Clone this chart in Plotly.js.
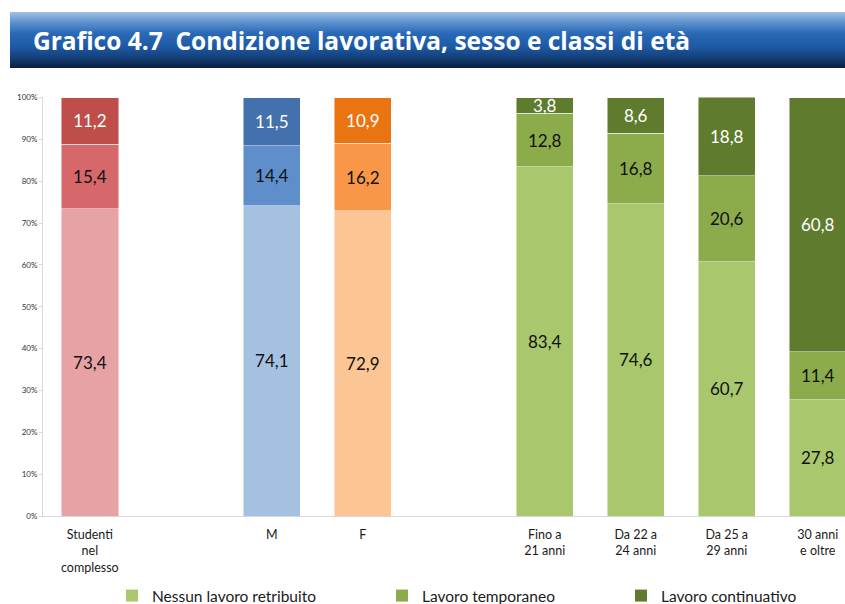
<!DOCTYPE html>
<html>
<head>
<meta charset="utf-8">
<script src="https://cdn.plot.ly/plotly-3.0.1.min.js"></script>
<style>
html,body{margin:0;padding:0;background:#fff;overflow:hidden;}
#wrap{position:relative;width:845px;height:604px;}
#banner{position:absolute;left:10px;top:12px;width:835px;height:56px;
 background:linear-gradient(to bottom,#a3c1e2 0%,#5d93cf 18%,#2a69b6 38%,#1d5aa6 62%,#143f78 82%,#0b1f3c 100%);}
#chart{position:absolute;left:0;top:0;width:845px;height:604px;}
</style>
</head>
<body>
<div id="wrap"><div id="banner"></div><div id="chart"></div></div>
<script>
// Categories (slot positions leave gaps between groups)
const categories = ["Studenti<br>nel<br>complesso", "M", "F", "Fino a<br>21 anni", "Da 22 a<br>24 anni", "Da 25 a<br>29 anni", "30 anni<br>e oltre"];
const slots = [0, 2, 3, 5, 6, 7, 8];

// Series values (%)
const nessunLavoro   = [73.4, 74.1, 72.9, 83.4, 74.6, 60.7, 27.8];
const lavoroTemp     = [15.4, 14.4, 16.2, 12.8, 16.8, 20.6, 11.4];
const lavoroContin   = [11.2, 11.5, 10.9, 3.8, 8.6, 18.8, 60.8];

const seriesNames = ["Nessun lavoro retribuito", "Lavoro temporaneo", "Lavoro continuativo"];
const yTicks = [0,10,20,30,40,50,60,70,80,90,100];
const yTickText = ["0%","10%","20%","30%","40%","50%","60%","70%","80%","90%","100%"];

// Colours per bar (light / medium / dark)
const colLight = ["#e6a2a4", "#a4c1e2", "#fbc594", "#a9c76c", "#a9c76c", "#a9c76c", "#a9c76c"];
const colMid   = ["#d6676a", "#5f8fcb", "#f79747", "#8cab4b", "#8cab4b", "#8cab4b", "#8cab4b"];
const colDark  = ["#bf4e4b", "#4371ae", "#e97411", "#5f7b2d", "#5f7b2d", "#5f7b2d", "#5f7b2d"];
const legendColors = ["#a9c76c", "#8cab4b", "#5f7b2d"];

const labelFont = "Lato, 'Open Sans', sans-serif";

function layer(vals, colors, txtColor) {
  return {
    type: "bar", x: slots, y: vals, width: 0.63,
    marker: {color: colors, line: {color: "rgba(255,255,255,0.6)", width: 0.8}},
    texttemplate: "%{y:.1f}", textposition: "inside", insidetextanchor: "middle",
    constraintext: "none", cliponaxis: false,
    textfont: {family: labelFont, size: 17, color: txtColor},
    showlegend: false, hoverinfo: "skip"
  };
}

const data = [
  layer(nessunLavoro, colLight, "#111"),
  layer(lavoroTemp, colMid, "#111"),
  layer(lavoroContin, colDark, "#fff")
];
const legendIds = ["legend", "legend2", "legend3"];
for (let i = 0; i < 3; i++) {
  data.push({type: "bar", x: [null], y: [null], name: seriesNames[i],
    marker: {color: legendColors[i]}, showlegend: true, legend: legendIds[i], hoverinfo: "skip"});
}

function legendAt(px) {
  return {orientation: "h", xref: "container", yref: "container", x: px / 845, y: 1 - 596 / 604,
    xanchor: "left", yanchor: "middle", bgcolor: "rgba(0,0,0,0)",
    font: {family: labelFont, size: 15.5, color: "#1a1a1a"}, itemwidth: 30};
}

const layout = {
  width: 845, height: 604,
  paper_bgcolor: "rgba(0,0,0,0)", plot_bgcolor: "rgba(0,0,0,0)",
  separators: ",.",
  barmode: "stack",
  margin: {l: 43, r: 0, t: 97, b: 88},
  title: {text: "<b>Grafico 4.7  Condizione lavorativa, sesso e classi di età</b>",
    xref: "container", yref: "container", x: 33 / 845, y: 1 - 41 / 604, xanchor: "left", yanchor: "middle",
    font: {family: "'Open Sans', sans-serif", size: 24.5, color: "#ffffff"}},
  xaxis: {range: [-0.515, 8.30], tickvals: slots, ticktext: categories, showgrid: false, zeroline: false,
    showline: true, linecolor: "#d9d9d9", linewidth: 1, ticks: "", ticklabelstandoff: 7,
    tickfont: {family: labelFont, size: 12.5, color: "#1a1a1a"}, fixedrange: true},
  yaxis: {range: [0, 100.12], tickvals: yTicks, ticktext: yTickText, showgrid: false, zeroline: false,
    showline: true, linecolor: "#d9d9d9", linewidth: 1, ticks: "outside", ticklen: 3, tickcolor: "#d9d9d9",
    tickfont: {family: labelFont, size: 8, color: "#333"}, fixedrange: true},
  legend: legendAt(112),
  legend2: legendAt(382),
  legend3: legendAt(621),
  showlegend: true
};

Plotly.newPlot("chart", data, layout, {displayModeBar: false, staticPlot: true});
</script>
</body>
</html>
